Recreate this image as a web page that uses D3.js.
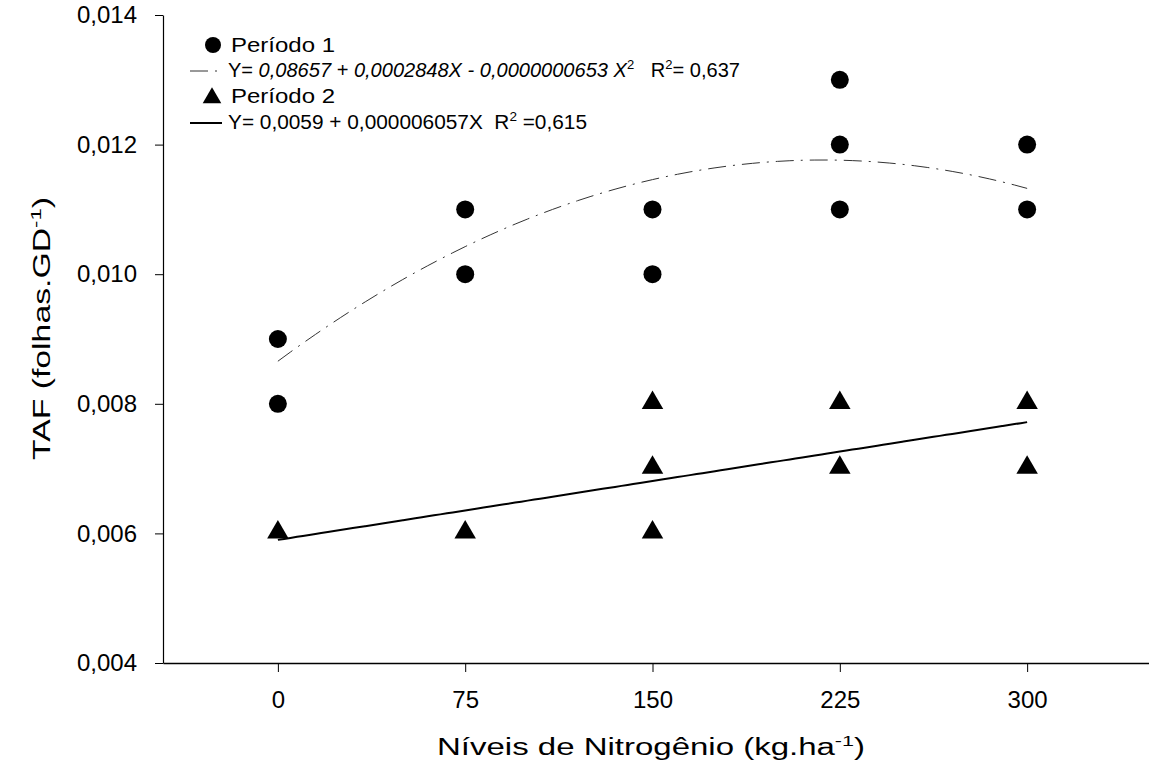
<!DOCTYPE html>
<html>
<head>
<meta charset="utf-8">
<script src="https://cdn.jsdelivr.net/npm/d3@7"></script>
<style>
  body { margin: 0; background: #fff; }
  svg text { font-family: "Liberation Sans", Arial, sans-serif; fill: #000; white-space: pre; }
</style>
</head>
<body>
<svg id="chart" width="1149" height="778"></svg>
<script>
// observed values
const p1X = [0, 0, 75, 75, 150, 150, 225, 225, 225, 300, 300]
const p1Y = [0.009, 0.008, 0.011, 0.010, 0.011, 0.010, 0.013, 0.012, 0.011, 0.012, 0.011]
const p2X = [0, 75, 150, 150, 150, 225, 225, 300, 300]
const p2Y = [0.006, 0.006, 0.008, 0.007, 0.006, 0.008, 0.007, 0.008, 0.007]

// fitted coefficients (as drawn): a + b*x + c*x^2
const fit1 = [0.008657, 0.00002848, -0.0000000653]
const fit2 = [0.0059, 0.000006057, 0]

const xTicks = [0, 75, 150, 225, 300]
const yTicks = [0.004, 0.006, 0.008, 0.010, 0.012, 0.014]

let svg = d3.select('#chart')

let xScale = d3.scaleLinear().domain([-46, 350]).range([163, 1152])
let yScale = d3.scaleLinear().domain([0.004, 0.014]).range([663, 15])

// axes
let xAxis = d3.axisBottom(xScale).tickValues(xTicks).tickSize(9).tickPadding(19).tickSizeOuter(0)
let gx = svg.append('g').attr('transform', 'translate(0,663)').call(xAxis)
gx.select('.domain').attr('stroke', '#000').attr('stroke-width', 1.5)
gx.selectAll('text').style('font-size', '24px')

let yAxis = d3.axisLeft(yScale).tickValues(yTicks).tickSize(8).tickPadding(18).tickSizeOuter(0)
  .tickFormat(d => d3.format('.3f')(d).replace('.', ','))
let gy = svg.append('g').attr('transform', 'translate(163,0)').call(yAxis)
gy.select('.domain').attr('stroke', '#000').attr('stroke-width', 1.2)
gy.selectAll('text').style('font-size', '24px')

// axis titles (the original lettering is wide, so stretch it)
let xt = svg.append('text').attr('x', 437).attr('y', 755).style('font-size', '23px')
  .attr('textLength', 428).attr('lengthAdjust', 'spacingAndGlyphs')
xt.append('tspan').text('Níveis de Nitrogênio (kg.ha')
xt.append('tspan').text('-1').attr('dy', -9).style('font-size', '15px')
xt.append('tspan').text(')').attr('dy', 9)

let yt = svg.append('text').attr('transform', 'translate(50,460) rotate(-90)').style('font-size', '23px')
  .attr('textLength', 263).attr('lengthAdjust', 'spacingAndGlyphs')
yt.append('tspan').text('TAF (folhas.GD')
yt.append('tspan').text('-1').attr('dy', -9).style('font-size', '15px')
yt.append('tspan').text(')').attr('dy', 9)

// fitted lines
function curve(coef){
  let pts = []
  for (let x = 0; x <= 300; x += 5){
    pts.push({x: x, y: coef[0] + coef[1]*x + coef[2]*x*x})
  }
  return pts
}
let line = d3.line().x(d => xScale(d.x)).y(d => yScale(d.y)).curve(d3.curveMonotoneX)

svg.append('path').attr('d', line(curve(fit1))).attr('fill', 'none')
  .attr('stroke', '#333').attr('stroke-width', 1).attr('stroke-dasharray', '18,7,2,7')
svg.append('path').attr('d', line(curve(fit2))).attr('fill', 'none')
  .attr('stroke', '#000').attr('stroke-width', 2)

// points
svg.append('g').selectAll('circle').data(p1X).join('circle')
  .attr('cx', d => xScale(d)).attr('cy', (d, i) => yScale(p1Y[i])).attr('r', 9).attr('fill', '#000')

let tri = d3.symbol().type(d3.symbolTriangle).size(200)
svg.append('g').selectAll('path').data(p2X).join('path')
  .attr('d', tri).attr('fill', '#000')
  .attr('transform', (d, i) => 'translate(' + xScale(d) + ',' + (yScale(p2Y[i]) - 1) + ')')

// legend
let lg = svg.append('g').style('font-size', '20px')
lg.append('circle').attr('cx', 213).attr('cy', 45).attr('r', 8).attr('fill', '#000')
lg.append('text').attr('x', 231).attr('y', 52).text('Período 1')
  .attr('textLength', 104).attr('lengthAdjust', 'spacingAndGlyphs')

lg.append('line').attr('x1', 190).attr('x2', 222).attr('y1', 71).attr('y2', 71)
  .attr('stroke', '#333').attr('stroke-width', 1).attr('stroke-dasharray', '18,7,2,7')
let e1 = lg.append('text').attr('x', 228).attr('y', 77)
  .attr('textLength', 512).attr('lengthAdjust', 'spacingAndGlyphs')
e1.append('tspan').text('Y= ')
e1.append('tspan').text('0,08657 + 0,0002848X - 0,0000000653 X').style('font-style', 'italic')
e1.append('tspan').text('2').attr('dy', -8).style('font-size', '13px')
e1.append('tspan').text('   R').attr('dy', 8)
e1.append('tspan').text('2').attr('dy', -8).style('font-size', '13px')
e1.append('tspan').text('= 0,637').attr('dy', 8)

lg.append('path').attr('d', d3.symbol().type(d3.symbolTriangle).size(150))
  .attr('transform', 'translate(212,98)').attr('fill', '#000')
lg.append('text').attr('x', 231).attr('y', 103).text('Período 2')
  .attr('textLength', 104).attr('lengthAdjust', 'spacingAndGlyphs')

lg.append('line').attr('x1', 190).attr('x2', 222).attr('y1', 123).attr('y2', 123)
  .attr('stroke', '#000').attr('stroke-width', 2)
let e2 = lg.append('text').attr('x', 228).attr('y', 129)
  .attr('textLength', 359).attr('lengthAdjust', 'spacingAndGlyphs')
e2.append('tspan').text('Y= 0,0059 + 0,000006057X  R')
e2.append('tspan').text('2').attr('dy', -8).style('font-size', '13px')
e2.append('tspan').text(' =0,615').attr('dy', 8)
</script>
</body>
</html>
